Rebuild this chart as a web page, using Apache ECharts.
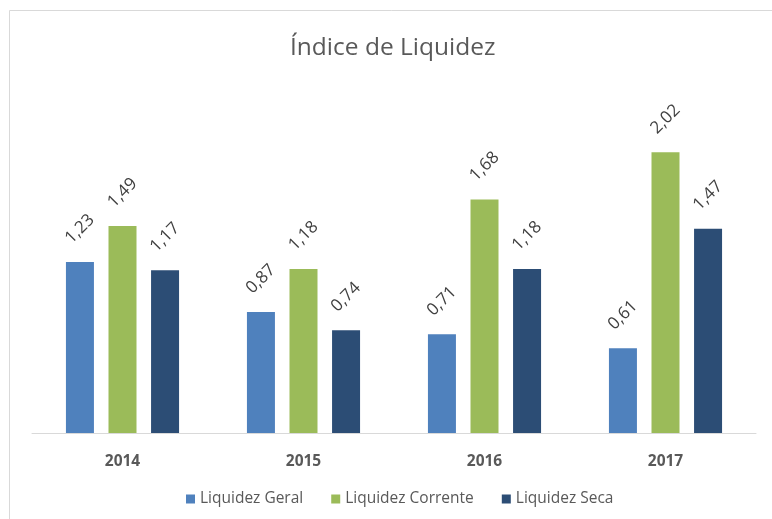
<!DOCTYPE html>
<html>
<head>
<meta charset="utf-8">
<script src="https://cdn.jsdelivr.net/npm/echarts@6/dist/echarts.min.js"></script>
<style>
  html, body { margin: 0; padding: 0; background: #fff; }
  #chart { width: 772px; height: 519px; }
</style>
</head>
<body>
<div id="chart"></div>
<script>
// Índice de Liquidez, 2014-2017
const years = ['2014', '2015', '2016', '2017'];
const liquidezGeral = [1.23, 0.87, 0.71, 0.61];
const liquidezCorrente = [1.49, 1.18, 1.68, 2.02];
const liquidezSeca = [1.17, 0.74, 1.18, 1.47];

const font = '"Open Sans", "Noto Sans", sans-serif';
const fmt = p => p.value.toFixed(2).replace('.', ',');

const barLabel = {
    show: true,
    position: 'top',
    distance: 33,
    rotate: 45,
    align: 'center',
    verticalAlign: 'middle',
    color: '#404040',
    fontSize: 17,
    fontFamily: font,
    formatter: fmt
};

const mkSeries = (name, data, color) => ({
    name,
    type: 'bar',
    data,
    barWidth: 28,
    barGap: '52%',
    itemStyle: { color },
    label: barLabel
});

const chart = echarts.init(document.getElementById('chart'));
chart.setOption({
    backgroundColor: '#fff',
    animation: false,
    title: {
        text: 'Índice de Liquidez',
        left: 285,
        top: 31,
        textStyle: { color: '#595959', fontSize: 24.5, fontWeight: 'normal', fontFamily: font }
    },
    graphic: [{
        type: 'rect',
        shape: { x: 9.5, y: 10.5, width: 780, height: 520 },
        style: { fill: 'none', stroke: '#d9d9d9', lineWidth: 1 },
        silent: true
    }],
    legend: {
        bottom: 7,
        left: 181,
        itemWidth: 9,
        itemHeight: 9,
        itemGap: 28,
        icon: 'rect',
        textStyle: { color: '#595959', fontSize: 15.5, fontFamily: font }
    },
    grid: { left: 32, right: 16, top: 85.5, bottom: 86, containLabel: false },
    xAxis: {
        type: 'category',
        data: years,
        axisTick: { show: false },
        axisLine: { lineStyle: { color: '#d9d9d9' } },
        axisLabel: { color: '#595959', fontSize: 15.5, fontWeight: 'bold', fontFamily: font, margin: 21 }
    },
    yAxis: {
        type: 'value',
        min: 0,
        max: 2.5,
        show: false,
        splitLine: { show: false }
    },
    series: [
        mkSeries('Liquidez Geral', liquidezGeral, '#4f81bd'),
        mkSeries('Liquidez Corrente', liquidezCorrente, '#9bbb59'),
        mkSeries('Liquidez Seca', liquidezSeca, '#2c4d75')
    ]
});
</script>
</body>
</html>
